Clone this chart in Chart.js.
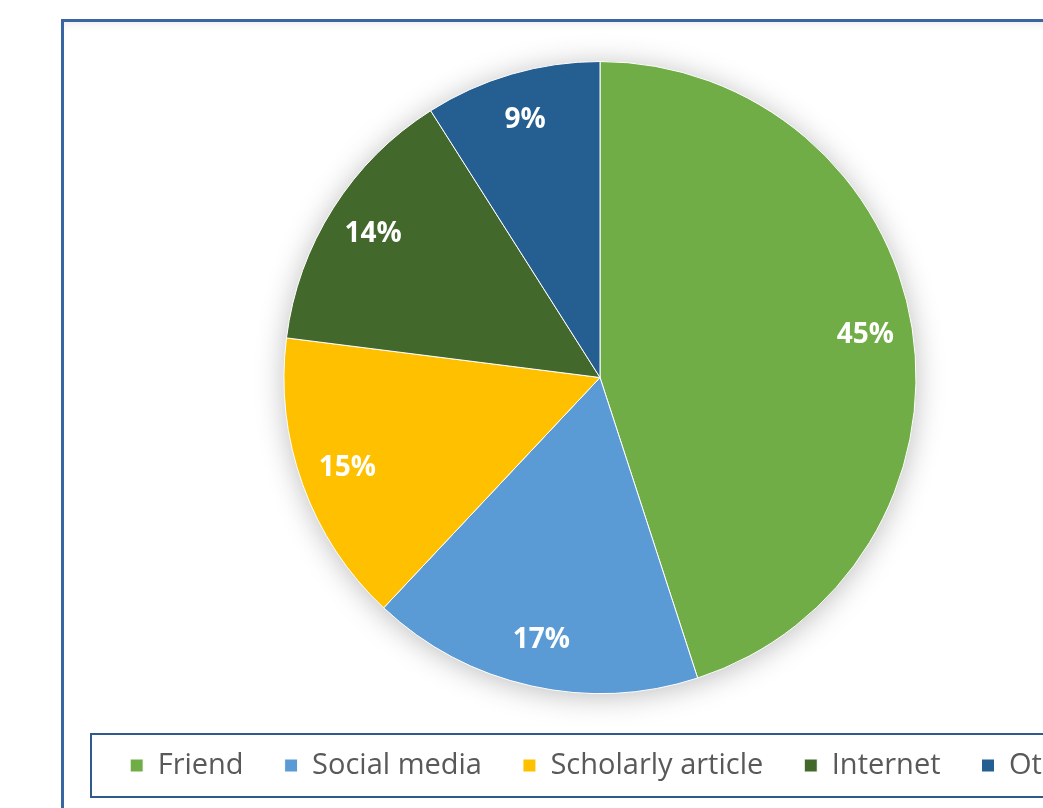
<!DOCTYPE html>
<html>
<head>
<meta charset="utf-8">
<script src="https://cdn.jsdelivr.net/npm/chart.js@4/dist/chart.umd.min.js"></script>
<style>
  html, body { margin: 0; padding: 0; background: #ffffff; overflow: hidden; width: 1043px; height: 808px; }
  .frame {
    position: absolute; left: 61px; top: 19px; width: 2000px; height: 2000px;
    border: 3px solid #3a65a3; box-sizing: border-box;
    box-shadow: inset 0 7px 10px -6px rgba(0,0,0,0.10);
  }
  .legend-box {
    position: absolute; left: 90px; top: 733px; width: 2000px; height: 65px;
    border: 2px solid #2f5a8e; box-sizing: border-box;
  }
  #wrap { position: absolute; left: 0; top: 0; width: 1200px; height: 808px; }
</style>
</head>
<body>
<div class="frame"></div>
<div class="legend-box"></div>
<div id="wrap"><canvas id="pie" width="1200" height="808"></canvas></div>
<script>
// Where people heard about it, as a share of responses (%)
const categories = ['Friend', 'Social media', 'Scholarly article', 'Internet', 'Other'];
const shares = [45, 17, 15, 14, 9];
const palette = ['#70ad47', '#5b9bd5', '#ffc000', '#43682b', '#255e91'];

// Soft drop shadow painted once under the whole pie
const pieShadow = {
  id: 'pieShadow',
  beforeDatasetsDraw(chart) {
    const arc = chart.getDatasetMeta(0).data[0];
    if (!arc) return;
    const { x, y, outerRadius } = arc.getProps(['x', 'y', 'outerRadius'], true);
    const ctx = chart.ctx;
    ctx.save();
    ctx.shadowColor = 'rgba(0,0,0,0.28)';
    ctx.shadowBlur = 30;
    ctx.shadowOffsetY = 3;
    ctx.fillStyle = '#ffffff';
    ctx.beginPath();
    ctx.arc(x, y, outerRadius - 1, 0, Math.PI * 2);
    ctx.fill();
    ctx.restore();
  }
};

// Percentage labels placed inside the outer end of each slice
const sliceLabels = {
  id: 'sliceLabels',
  afterDatasetsDraw(chart) {
    const ctx = chart.ctx;
    const meta = chart.getDatasetMeta(0);
    const values = chart.data.datasets[0].data;
    ctx.save();
    ctx.font = 'bold 28px "Open Sans", sans-serif';
    ctx.fillStyle = '#ffffff';
    ctx.textAlign = 'center';
    ctx.textBaseline = 'middle';
    meta.data.forEach((arc, i) => {
      const p = arc.getProps(['x', 'y', 'startAngle', 'endAngle', 'outerRadius'], true);
      const mid = (p.startAngle + p.endAngle) / 2;
      const r = p.outerRadius * 0.85;
      ctx.fillText(values[i] + '%', p.x + Math.cos(mid) * r, p.y + Math.sin(mid) * r);
    });
    ctx.restore();
  }
};

// The legend row sits slightly right of the pie's centre line
const legendNudge = {
  id: 'legendNudge',
  afterLayout(chart) {
    if (chart.legend) {
      chart.legend.left += 9;
      chart.legend.right += 9;
    }
  }
};

new Chart(document.getElementById('pie'), {
  type: 'pie',
  data: {
    labels: categories,
    datasets: [{
      data: shares,
      backgroundColor: palette,
      borderColor: '#ffffff',
      borderWidth: 1
    }]
  },
  options: {
    responsive: false,
    animation: false,
    radius: 316,
    layout: { padding: { top: 45, bottom: 18, left: 0, right: 0 } },
    plugins: {
      tooltip: { enabled: false },
      legend: {
        position: 'bottom',
        labels: {
          boxWidth: 13,
          boxHeight: 13,
          padding: 41,
          color: '#595959',
          font: { family: '"Open Sans", sans-serif', size: 29 }
        }
      }
    }
  },
  plugins: [pieShadow, sliceLabels, legendNudge]
});
</script>
</body>
</html>
